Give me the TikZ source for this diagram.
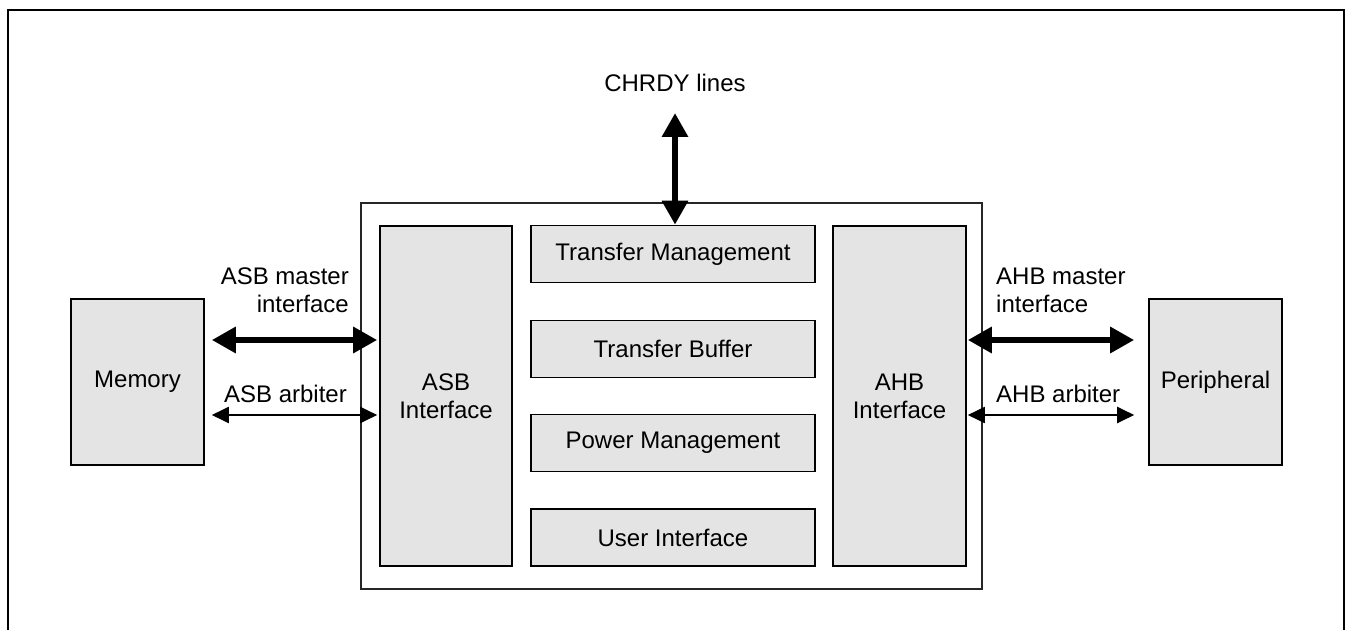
\documentclass[tikz,border=0pt]{standalone}
\usepackage{fontspec}
\setmainfont{Liberation Sans}
\usepackage{tikz}
\usetikzlibrary{
  arrows.meta,
  positioning
}
\definecolor{blockGray}{HTML}{E4E4E4}

\begin{document}
\begin{tikzpicture}[x=1bp, y=-1bp,
  font=\fontsize{24bp}{28bp}\selectfont,
  block/.style={draw=black, line width=1.6bp, fill=blockGray, inner sep=0pt, align=center},
  bus/.style={line width=6bp, {Triangle[length=24bp,width=25bp]}-{Triangle[length=24bp,width=25bp]}},
  sig/.style={line width=2bp, {Triangle[length=17bp,width=16bp]}-{Triangle[length=17bp,width=16bp]}},
  lbl/.style={inner sep=0pt}]
  \useasboundingbox (0,0) rectangle (1346,630);
  % outer frame, open at the bottom
  \draw[line width=2bp] (8,630) -- (8,10) -- (1344,10) -- (1344,630);

  % bridge and its blocks
  \node[draw=black!85, line width=1.3bp, minimum width=621bp, minimum height=386bp] (bridge) at (671.5,396) {};
  \node[block, minimum width=132bp, minimum height=340bp] (asb) at (446,396) {ASB\\Interface};
  \node[block, minimum width=133bp, minimum height=340bp] (ahb) at (899.5,396) {AHB\\Interface};
  \node[block, minimum width=284bp, minimum height=57bp] (tm) at (673,254) {Transfer Management};
  \node[block, minimum width=284bp, minimum height=57bp] (tb) at (673,349) {Transfer Buffer};
  \node[block, minimum width=284bp, minimum height=57bp] (pm) at (673,443) {Power Management};
  \node[block, minimum width=284bp, minimum height=57bp] (ui) at (673,537.5) {User Interface};

  % outside blocks
  \node[block, minimum width=133bp, minimum height=166bp] (mem) at (137.5,382) {Memory};
  \node[block, minimum width=133bp, minimum height=166bp] (per) at (1215.5,382) {Peripheral};

  % rows of the side buses
  \coordinate (mrow) at (0,340);
  \coordinate (arow) at (0,415);
  \coordinate (chrdy) at (675,113);

  \draw[bus, shorten <=7bp, shorten >=2bp] (mem.east |- mrow) -- (asb.west |- mrow);
  \draw[sig, shorten <=7bp, shorten >=2bp] (mem.east |- arow) -- (asb.west |- arow);
  \draw[bus, shorten <=1bp, shorten >=14bp] (ahb.east |- mrow) -- (per.west |- mrow);
  \draw[sig, shorten <=1bp, shorten >=14bp] (ahb.east |- arow) -- (per.west |- arow);
  \draw[bus] (chrdy) -- (chrdy |- tm.north);

  % labels
  \node[lbl, anchor=base] (chrdyLbl) at (675,92) {CHRDY lines};
  \node[lbl, align=right, anchor=south east] (asbMLbl) at (349,313) {ASB master\\interface};
  \node[lbl, anchor=base east] (asbALbl) at (347,402) {ASB arbiter};
  \node[lbl, align=left, anchor=south west] (ahbMLbl) at (996,313) {AHB master\\interface};
  \node[lbl, anchor=base west] (ahbALbl) at (996,402) {AHB arbiter};
\end{tikzpicture}
\end{document}
